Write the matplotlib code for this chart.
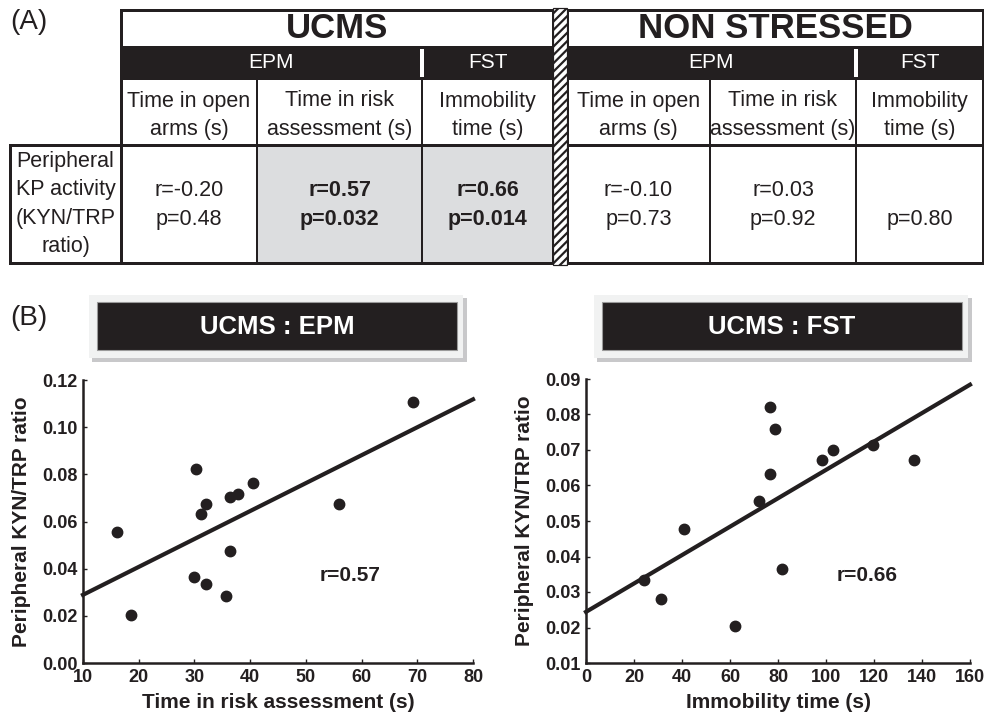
import matplotlib.pyplot as plt
from matplotlib.patches import Rectangle

plt.rcParams['font.family'] = ['Liberation Sans', 'DejaVu Sans']
plt.rcParams['hatch.linewidth'] = 1.6

INK = '#231f20'
GREY = '#dcdddf'

# (A) correlation table
groups = ['UCMS', 'NON STRESSED']
tests = ['EPM', 'FST']
measures = [['Time in open', 'arms (s)'], ['Time in risk', 'assessment (s)'],
            ['Immobility', 'time (s)']]
row_label = ['Peripheral', 'KP activity', '(KYN/TRP', 'ratio)']
r_text = [['r=-0.20', 'r=0.57', 'r=0.66'], ['r=-0.10', 'r=0.03', '']]
p_text = [['p=0.48', 'p=0.032', 'p=0.014'], ['p=0.73', 'p=0.92', 'p=0.80']]
signif = [[False, True, True], [False, False, False]]

# (B) UCMS : EPM
epm_time = [16.1, 18.7, 30.2, 31.1, 32.1, 30.0, 32.0, 35.6, 36.3, 36.3, 37.8, 40.5, 56.0, 69.2]
epm_ratio = [0.0555, 0.0205, 0.0822, 0.0631, 0.0675, 0.0364, 0.0333, 0.0284, 0.0477, 0.0702,
             0.0717, 0.0764, 0.0675, 0.1105]
epm_fit_x = [10, 80]
epm_fit_y = [0.0289, 0.1118]
epm_r = 'r=0.57'
epm_xticks = [10, 20, 30, 40, 50, 60, 70, 80]
epm_yticks = [0.00, 0.02, 0.04, 0.06, 0.08, 0.10, 0.12]

# (B) UCMS : FST
fst_time = [24.2, 31.4, 40.8, 62.2, 72.1, 76.7, 78.9, 76.7, 81.7, 98.3, 103.1, 119.7, 136.5]
fst_ratio = [0.0335, 0.0281, 0.0477, 0.0203, 0.0555, 0.0820, 0.0760, 0.0631, 0.0366, 0.0673,
             0.0701, 0.0715, 0.0673]
fst_fit_x = [0, 160]
fst_fit_y = [0.0244, 0.0884]
fst_r = 'r=0.66'
fst_xticks = [0, 20, 40, 60, 80, 100, 120, 140, 160]
fst_yticks = [0.01, 0.02, 0.03, 0.04, 0.05, 0.06, 0.07, 0.08, 0.09]

px = 0.72  # one pixel in points at dpi 100

fig = plt.figure(figsize=(9.84, 7.18), dpi=100)

# canvas in pixel coordinates for the table and the title boxes
ax0 = fig.add_axes([0, 0, 1, 1])
ax0.set_xlim(0, 984)
ax0.set_ylim(718, 0)
ax0.axis('off')

edges = [[121, 257, 422, 553], [567, 710, 856, 983]]
y_top, y_grp, y_test, y_head, y_bot = 10, 46, 80, 145, 263

for g in range(2):
    e = edges[g]
    x0, x3 = e[0], e[3]
    ax0.text((x0 + x3) / 2, (y_top + y_grp) / 2 + 1, groups[g], ha='center', va='center',
             fontsize=25, fontweight='bold', color=INK)
    ax0.add_patch(Rectangle((x0, y_grp), x3 - x0, y_test - y_grp, fc=INK, ec='none'))
    ax0.add_patch(Rectangle((e[2] - 2, y_grp + 3), 4, y_test - y_grp - 6, fc='white', ec='none'))
    ax0.text((e[0] + e[2]) / 2, (y_grp + y_test) / 2, tests[0], ha='center', va='center',
             fontsize=15, color='white')
    ax0.text((e[2] + e[3]) / 2, (y_grp + y_test) / 2, tests[1], ha='center', va='center',
             fontsize=15, color='white')
    for c in range(3):
        xc = (e[c] + e[c + 1]) / 2
        if signif[g][c]:
            ax0.add_patch(Rectangle((e[c], y_head), e[c + 1] - e[c], y_bot - y_head,
                                    fc=GREY, ec='none', zorder=0))
        for k, line in enumerate(measures[c]):
            ax0.text(xc, 101 + 28 * k, line, ha='center', va='center', fontsize=15.5,
                     color=INK)
        w = 'bold' if signif[g][c] else 'normal'
        if r_text[g][c]:
            ax0.text(xc, 191, r_text[g][c], ha='center', va='center', fontsize=15.5,
                     fontweight=w, color=INK)
        ax0.text(xc, 219, p_text[g][c], ha='center', va='center', fontsize=15.5,
                 fontweight=w, color=INK)
    for xv in e[1:3]:
        ax0.plot([xv, xv], [y_test, y_bot], color=INK, lw=2 * px, zorder=3)
    ax0.plot([x0, x3], [y_head, y_head], color=INK, lw=3 * px, zorder=3)
    ax0.add_patch(Rectangle((x0, y_top), x3 - x0, y_bot - y_top, fc='none', ec=INK,
                            lw=3 * px, zorder=4))

# row label box
ax0.add_patch(Rectangle((10, y_head), edges[0][0] - 10, y_bot - y_head, fc='none', ec=INK,
                        lw=3 * px, zorder=4))
for i, line in enumerate(row_label):
    ax0.text((10 + edges[0][0]) / 2, 204 + (i - 1.5) * 28.5, line, ha='center', va='center',
             fontsize=15.5, color=INK)

# hatched separator between the two groups
ax0.add_patch(Rectangle((edges[0][3], 8), edges[1][0] - edges[0][3], y_bot - 6, fc='white',
                        ec=INK, hatch='////', lw=1.2 * px, zorder=5))

ax0.text(10, 22, '(A)', ha='left', va='center', fontsize=20, color=INK)
ax0.text(10, 318, '(B)', ha='left', va='center', fontsize=20, color=INK)

# title boxes above the scatter plots
for x_left, title in [(97, 'UCMS : EPM'), (602, 'UCMS : FST')]:
    ax0.add_patch(Rectangle((x_left - 5, 298), 375, 64, fc='#c8c8ca', ec='none'))
    ax0.add_patch(Rectangle((x_left - 8, 295), 374, 63, fc='#f1f2f2', ec='none'))
    ax0.add_patch(Rectangle((x_left, 302), 360, 48, fc=INK, ec='#9a9a9a', lw=0.8))
    ax0.text(x_left + 180, 327, title, ha='center', va='center', fontsize=18.5,
             fontweight='bold', color='white')


def scatter_panel(rect, xs, ys, fit_x, fit_y, xticks, yticks, xlabel, rlabel, rpos):
    ax = fig.add_axes(rect)
    ax.plot(fit_x, fit_y, color=INK, lw=3, clip_on=False, zorder=2)
    ax.plot(xs, ys, 'o', color=INK, ms=7.5, clip_on=False, zorder=3)
    ax.set_xlim(xticks[0], xticks[-1])
    ax.set_ylim(yticks[0], yticks[-1])
    ax.set_xticks(xticks, [str(v) for v in xticks], fontweight='bold')
    ax.set_yticks(yticks, [f'{v:.2f}' for v in yticks], fontweight='bold')
    ax.tick_params(direction='in', length=3, width=1, labelsize=13, colors=INK, pad=4)
    for s in ['top', 'right']:
        ax.spines[s].set_visible(False)
    for s in ['left', 'bottom']:
        ax.spines[s].set_linewidth(1.8)
        ax.spines[s].set_color(INK)
    ax.patch.set_alpha(0)
    ax.set_xlabel(xlabel, fontsize=15, fontweight='bold', color=INK, labelpad=5)
    ax.set_ylabel('Peripheral KYN/TRP ratio', fontsize=15, fontweight='bold', color=INK,
                  labelpad=8)
    ax.text(rpos[0], rpos[1], rlabel, ha='center', va='center', fontsize=15,
            fontweight='bold', color=INK)
    return ax


scatter_panel([83 / 984, 1 - 663 / 718, 390 / 984, 283 / 718], epm_time, epm_ratio,
              epm_fit_x, epm_fit_y, epm_xticks, epm_yticks, 'Time in risk assessment (s)',
              epm_r, (58, 0.037))
scatter_panel([586 / 984, 1 - 663 / 718, 384 / 984, 284 / 718], fst_time, fst_ratio,
              fst_fit_x, fst_fit_y, fst_xticks, fst_yticks, 'Immobility time (s)',
              fst_r, (117, 0.0347))

fig.savefig('out.png', dpi=100)
